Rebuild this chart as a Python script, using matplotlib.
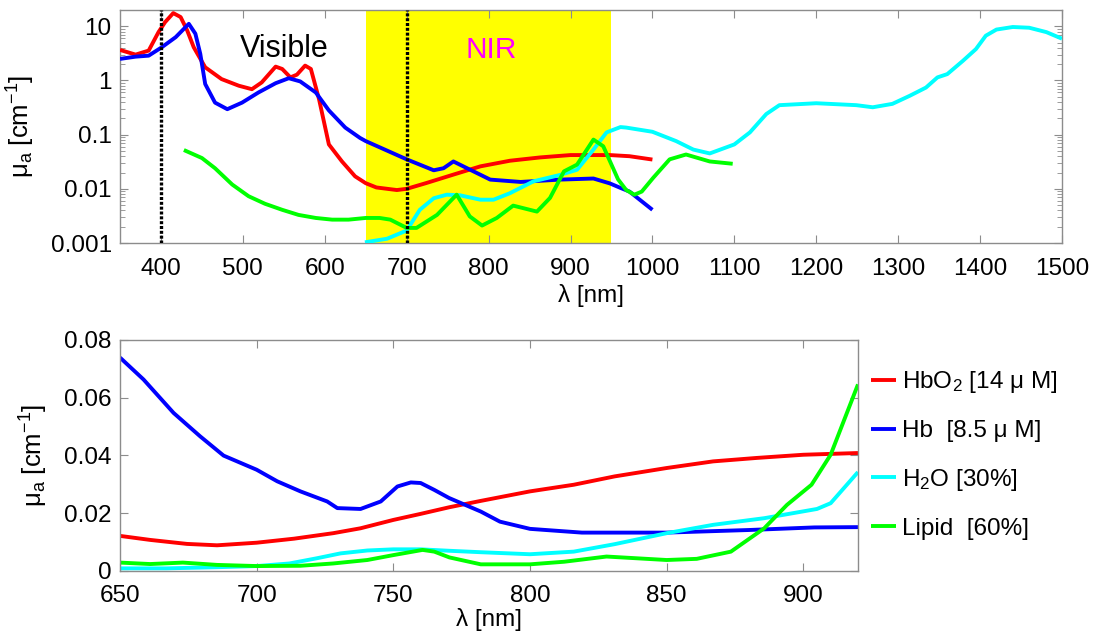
import matplotlib
matplotlib.use("Agg")
import matplotlib.pyplot as plt
from matplotlib.ticker import FixedLocator, FuncFormatter, LogLocator, NullFormatter

plt.rcParams['font.family'] = ['Liberation Sans', 'DejaVu Sans']
plt.rcParams['mathtext.fontset'] = 'custom'
plt.rcParams['mathtext.rm'] = 'Liberation Sans'
plt.rcParams['mathtext.it'] = 'Liberation Sans:italic'

# ---------------- top panel data (log scale) ----------------
hbo2_top_wl = [350, 369, 385, 397, 405, 415, 424, 432, 440, 454, 474, 495, 511, 523, 540, 548,
               558, 566, 576, 583, 593, 605, 621, 637, 650, 663, 688, 700, 724, 757, 790, 826,
               863, 900, 948, 972, 1000]
hbo2_top_mua = [3.66, 3.0, 3.56, 7.8, 11.9, 17.5, 14.8, 8.4, 4.1, 1.75, 1.06, 0.80, 0.69, 0.92, 1.8, 1.63,
                1.14, 1.28, 1.88, 1.63, 0.45, 0.066, 0.032, 0.017, 0.0127, 0.0106, 0.0095, 0.0100, 0.0128,
                0.0183, 0.026, 0.033, 0.038, 0.042, 0.042, 0.040, 0.0347]

hb_top_wl = [350, 369, 385, 401, 418, 434, 442, 448, 454, 466, 481, 499, 519, 540, 556, 570, 589,
             605, 625, 643, 650, 700, 733, 745, 757, 777, 802, 839, 887, 928, 948, 961, 972, 1000]
hb_top_mua = [2.5, 2.75, 2.87, 4.1, 6.3, 11.1, 7.3, 3.1, 0.86, 0.39, 0.295, 0.39, 0.6, 0.89, 1.1, 0.96,
              0.6, 0.28, 0.135, 0.087, 0.076, 0.035, 0.022, 0.024, 0.032, 0.0227, 0.0148, 0.0134,
              0.0148, 0.0155, 0.0126, 0.0104, 0.0089, 0.0041]

h2o_top_wl = [649, 676, 700, 716, 733, 749, 765, 790, 806, 826, 855, 887, 908, 928, 944, 961, 968,
              1000, 1029, 1050, 1070, 1100, 1119, 1139, 1155, 1200, 1249, 1269, 1293, 1314, 1334,
              1348, 1360, 1379, 1395, 1407, 1420, 1440, 1460, 1481, 1500]
h2o_top_mua = [0.00103, 0.0012, 0.0017, 0.0041, 0.0067, 0.0078, 0.0076, 0.0063, 0.0063, 0.0083,
               0.0138, 0.018, 0.0225, 0.053, 0.11, 0.138, 0.135, 0.113, 0.076, 0.053, 0.045, 0.066,
               0.11, 0.24, 0.35, 0.38, 0.35, 0.32, 0.37, 0.52, 0.74, 1.14, 1.31, 2.3, 3.8, 6.7, 8.7,
               9.7, 9.4, 7.8, 5.9]

lipid_top_wl = [428, 450, 466, 487, 507, 527, 548, 568, 589, 609, 629, 650, 667, 680, 700, 712, 737,
                761, 777, 792, 810, 830, 859, 875, 892, 908, 928, 940, 950, 958, 968, 978, 987, 1001,
                1021, 1041, 1070, 1098]
lipid_top_mua = [0.052, 0.037, 0.024, 0.012, 0.0073, 0.0053, 0.0041, 0.0033, 0.0029, 0.0027, 0.0027,
                 0.0029, 0.0029, 0.0027, 0.0019, 0.0019, 0.0033, 0.0078, 0.0031, 0.0021, 0.0029,
                 0.0049, 0.0038, 0.0068, 0.021, 0.028, 0.081, 0.061, 0.028, 0.015, 0.0095, 0.0078,
                 0.0089, 0.016, 0.035, 0.043, 0.032, 0.029]

# ---------------- bottom panel data (linear scale) ----------------
hbo2_bot_wl = [650, 661, 674.5, 685.5, 700, 713.7, 728, 738, 750, 760, 770.5, 782, 800, 816, 831,
               850, 867, 883, 900, 920]
hbo2_bot_mua = [0.01206, 0.01067, 0.00928, 0.0088, 0.0097, 0.0111, 0.013, 0.0147, 0.0176, 0.0197,
                0.022, 0.0242, 0.0275, 0.0298, 0.0327, 0.0356, 0.0379, 0.0391, 0.0402, 0.0408]

hb_bot_wl = [650, 658.6, 669.6, 679.3, 687.9, 700, 707.5, 716, 725.8, 729.5, 738, 745.4, 751.5, 756.4,
             760, 765, 770.4, 782, 789, 800, 819, 850, 880, 904, 920]
hb_bot_mua = [0.0739, 0.0663, 0.0547, 0.0466, 0.0399, 0.0350, 0.0310, 0.0275, 0.0240, 0.0217, 0.0214,
              0.0240, 0.0292, 0.0306, 0.0304, 0.028, 0.0252, 0.0205, 0.017, 0.0145, 0.0132, 0.0132,
              0.0141, 0.0150, 0.0151]

h2o_bot_wl = [650, 667, 685.5, 700, 712, 722, 730.7, 740.5, 750, 760, 770.5, 782, 800, 816, 831, 850,
              867, 885.7, 905, 910, 920]
h2o_bot_mua = [0.0008, 0.0008, 0.0012, 0.0016, 0.0025, 0.0043, 0.006, 0.007, 0.0074, 0.0074, 0.0069,
               0.0064, 0.0057, 0.0066, 0.0092, 0.013, 0.0159, 0.0182, 0.0214, 0.0234, 0.0342]

lipid_bot_wl = [650, 661, 673, 685.5, 700, 716, 728, 740.5, 750, 760.7, 765, 770.5, 782, 800, 812.5,
                828, 850, 861, 873.5, 885.7, 894, 903, 910, 920]
lipid_bot_mua = [0.0028, 0.0023, 0.0028, 0.002, 0.0016, 0.0017, 0.0025, 0.0037, 0.0054, 0.0072,
                 0.0066, 0.0046, 0.0022, 0.0022, 0.0031, 0.0049, 0.0037, 0.0041, 0.0066, 0.0147,
                 0.0228, 0.0298, 0.0402, 0.0646]

labels = [r'HbO$_\mathrm{2}$ [14 μ M]', 'Hb  [8.5 μ M]', r'H$_\mathrm{2}$O [30%]', 'Lipid  [60%]']
colors = ['#ff0000', '#0000ff', '#00ffff', '#00ff00']

top_xticks = [400, 500, 600, 700, 800, 900, 1000, 1100, 1200, 1300, 1400, 1500]
top_yticks = [0.001, 0.01, 0.1, 1, 10]
bot_xticks = [650, 700, 750, 800, 850, 900]
bot_yticks = [0, 0.02, 0.04, 0.06, 0.08]
nir_band = (650, 950)
marker_wl = [400, 700]

LW = 2.8
SP = '#8c8c8c'
FS = 17.5

fig = plt.figure(figsize=(10.99, 6.35), dpi=100)
ax1 = fig.add_axes([0.1092, 0.6173, 0.8571, 0.3670])
ax2 = fig.add_axes([0.1092, 0.1013, 0.6715, 0.3633])

# ---- top panel ----
ax1.axvspan(*nir_band, color='#ffff00', zorder=0, lw=0)
tops = [(hbo2_top_wl, hbo2_top_mua), (hb_top_wl, hb_top_mua),
        (h2o_top_wl, h2o_top_mua), (lipid_top_wl, lipid_top_mua)]
for (wl, mu), c in zip(tops, colors):
    ax1.plot(wl, mu, color=c, lw=LW, zorder=3, solid_capstyle='butt', solid_joinstyle='round')
for m in marker_wl:
    ax1.axvline(m, color='black', lw=2.4, ls=(0, (0.9, 0.55)), zorder=4)
ax1.set_yscale('log')
ax1.set_xlim(350, 1500)
ax1.set_ylim(0.001, 20)
ax1.xaxis.set_major_locator(FixedLocator(top_xticks))
ax1.yaxis.set_major_locator(FixedLocator(top_yticks))
ax1.yaxis.set_minor_locator(LogLocator(base=10, subs=range(2, 10)))
ax1.yaxis.set_minor_formatter(NullFormatter())
ax1.yaxis.set_major_formatter(FuncFormatter(lambda v, p: '%g' % v))
ax1.text(551, 3.8, 'Visible', fontsize=22, ha='center', va='center', color='black', zorder=5)
ax1.text(803, 3.6, 'NIR', fontsize=21.5, ha='center', va='center', color='#ff00ff', zorder=5)
ax1.set_xlabel('λ [nm]', fontsize=FS, labelpad=3)
ax1.set_ylabel(r'μ$_\mathrm{a}$ [cm$^\mathrm{-1}$]', fontsize=FS + 1, labelpad=10)

# ---- bottom panel ----
bots = [(hbo2_bot_wl, hbo2_bot_mua), (hb_bot_wl, hb_bot_mua),
        (h2o_bot_wl, h2o_bot_mua), (lipid_bot_wl, lipid_bot_mua)]
for (wl, mu), c, lab in zip(bots, colors, labels):
    ax2.plot(wl, mu, color=c, lw=LW, label=lab, solid_capstyle='butt', solid_joinstyle='round')
ax2.set_xlim(650, 920)
ax2.set_ylim(0, 0.08)
ax2.xaxis.set_major_locator(FixedLocator(bot_xticks))
ax2.yaxis.set_major_locator(FixedLocator(bot_yticks))
ax2.yaxis.set_major_formatter(FuncFormatter(lambda v, p: '%g' % v))
ax2.set_ylabel(r'μ$_\mathrm{a}$ [cm$^\mathrm{-1}$]', fontsize=FS + 1, labelpad=10)
ax2.legend(loc='upper left', bbox_to_anchor=(1.005, 0.915), frameon=False, fontsize=FS,
           handlelength=1.0, handletextpad=0.25, labelspacing=1.02, borderaxespad=0)

for ax in (ax1, ax2):
    for s in ax.spines.values():
        s.set_color(SP)
        s.set_linewidth(1.0)
    ax.tick_params(which='major', direction='in', length=6, width=0.8, color=SP,
                   top=True, right=True, labelsize=FS, pad=6)
    ax.tick_params(which='minor', direction='in', length=3.5, width=0.6, color=SP,
                   top=False, right=True)

ax1.tick_params(axis='x', which='major', pad=11)
ax2.tick_params(axis='x', which='major', pad=10)
ax2.set_xlabel('λ [nm]', fontsize=FS, labelpad=1)

fig.savefig('out.png', dpi=100)
